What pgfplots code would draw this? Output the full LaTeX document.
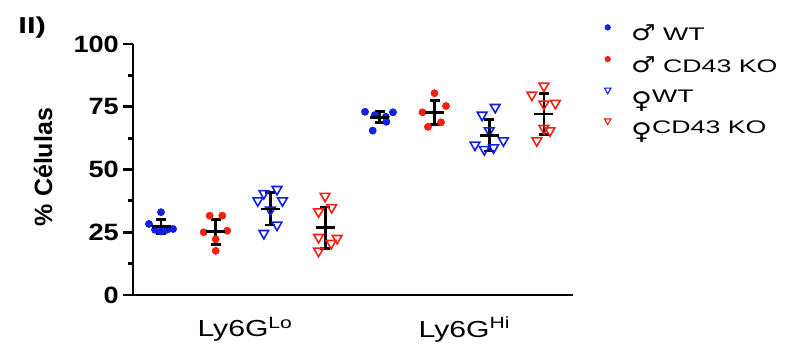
\documentclass[border=0pt]{standalone}
\usepackage{fontspec}
\setmainfont{Liberation Sans}
\newfontfamily\legfont[FakeStretch=1.47]{Liberation Sans}
\newfontfamily\symfont[FakeStretch=1.25]{DejaVu Sans}
\newfontfamily\tickfont[FakeStretch=1.15]{Liberation Sans}
\newfontfamily\xlabfont[FakeStretch=1.3]{Liberation Sans}
\newfontfamily\panelfont[FakeStretch=1.35]{Liberation Sans}
\newcommand{\mal}{{\symfont\fontsize{11}{9.1}\selectfont ♂}}
\newcommand{\fem}{\raisebox{-2.6pt}{\symfont\fontsize{11.5}{9.1}\selectfont ♀}}
\usepackage{pgfplots}
\pgfplotsset{compat=1.18}
\definecolor{gblue}{RGB}{16,32,224}
\definecolor{gred}{RGB}{245,32,20}

\pgfplotstableread{
x y
1.00 33.0
0.78 28.3
0.89 26.0
1.00 25.3
1.11 26.0
1.22 26.3
}\maleWTlo
\pgfplotstableread{
x y
1.89 31.6
2.12 31.6
1.78 25.0
2.21 25.6
2.00 22.2
2.00 17.6
}\maleKOlo
\pgfplotstableread{
x y
2.88 40.5
3.12 42.1
2.77 37.6
3.22 37.6
3.00 33.9
3.12 27.9
2.88 24.6
}\femWTlo
\pgfplotstableread{
x y
4.00 39.4
3.88 33.2
4.12 34.9
3.88 23.0
4.22 22.6
4.11 20.6
3.88 17.5
}\femKOlo
\pgfplotstableread{
x y
4.73 73.0
5.24 72.8
4.91 71.7
5.11 71.0
5.12 69.0
4.87 65.5
}\maleWThi
\pgfplotstableread{
x y
6.00 80.4
5.78 72.8
6.21 75.3
5.88 67.0
6.12 68.8
}\maleKOhi
\pgfplotstableread{
x y
7.11 74.8
6.87 71.7
7.00 65.5
7.26 61.5
6.74 59.8
6.91 58.0
7.08 58.7
}\femWThi
\pgfplotstableread{
x y
8.00 83.3
7.78 79.7
8.00 76.1
8.21 76.4
8.00 66.4
8.11 65.5
7.87 61.5
}\femKOhi

\begin{document}
\begin{tikzpicture}
\useasboundingbox (0,0) rectangle (393pt,-174.5pt);
\begin{axis}[
  at={(66.5pt,-147.5pt)}, anchor=south west,
  scale only axis, width=220pt, height=125.5pt,
  xmin=0.488, xmax=8.532, ymin=0, ymax=100,
  axis lines=left, axis line style={line width=1.4pt, -},
  ytick={0,25,50,75,100}, minor ytick={12.5,37.5,62.5,87.5},
  tick align=outside,
  major tick length=5pt, minor tick length=2.5pt,
  every tick/.style={black, line width=1.4pt},
  xtick={2.54,6.55},
  xticklabels={Ly6G\textsuperscript{Lo}, Ly6G\textsuperscript{Hi}},
  x tick style={draw=none},
  /pgf/number format/assume math mode=true,
  yticklabel style={font=\tickfont\bfseries\fontsize{11.8}{12}\selectfont, inner sep=0pt, xshift=-1.9pt},
  xticklabel style={font=\xlabfont\fontsize{11.6}{12}\selectfont, inner sep=0pt, anchor=north, yshift=-5.8pt},
  ylabel={\% Células},
  ylabel style={at={(rel axis cs:-0.2045,0.51)}, anchor=center, font=\bfseries\fontsize{12.5}{13}\selectfont},
  clip=false,
  legend image code/.code={\draw[#1] plot coordinates {(0pt,3.25pt)};},
  legend cell align=left,
  legend style={at={(rel axis cs:1.0714,1.077)}, anchor=north west, draw=none, fill=none,
    inner sep=0pt, outer sep=0pt, row sep=8.0pt, column sep=10pt,
    font=\legfont\fontsize{9.1}{9.1}\selectfont,
    nodes={inner sep=0pt, text height=6.5pt, text depth=0pt}},
]
\addlegendimage{only marks, mark=*, gblue, mark size=1.35pt}
\addlegendimage{only marks, mark=*, gred, mark size=1.35pt}
\addlegendimage{only marks, mark=triangle, gblue, mark size=1.9pt, mark options={rotate=180, line width=0.55pt}}
\addlegendimage{only marks, mark=triangle, gred, mark size=1.9pt, mark options={rotate=180, line width=0.55pt}}
\legend{\mal\ WT, \mal\ CD43 KO, \fem WT, \fem CD43 KO}

\addplot[forget plot, only marks, mark=*, gblue, mark size=1.75pt] table {\maleWTlo};
\addplot[forget plot, only marks, mark=*, gred, mark size=1.75pt] table {\maleKOlo};
\addplot[forget plot, only marks, mark=triangle, gblue, mark size=2.8pt, mark options={rotate=180, line width=0.8pt}] table {\femWTlo};
\addplot[forget plot, only marks, mark=triangle, gred, mark size=2.8pt, mark options={rotate=180, line width=0.8pt}] table {\femKOlo};
\addplot[forget plot, only marks, mark=*, gblue, mark size=1.75pt] table {\maleWThi};
\addplot[forget plot, only marks, mark=*, gred, mark size=1.75pt] table {\maleKOhi};
\addplot[forget plot, only marks, mark=triangle, gblue, mark size=2.8pt, mark options={rotate=180, line width=0.8pt}] table {\femWThi};
\addplot[forget plot, only marks, mark=triangle, gred, mark size=2.8pt, mark options={rotate=180, line width=0.8pt}] table {\femKOhi};

\addplot[forget plot, black, only marks, mark=-, mark size=4.75pt, mark options={line width=1.4pt, black},
  error bars/.cd, y dir=both, y explicit,
  error bar style={line width=1.4pt, black},
  error mark options={rotate=90, line width=1.4pt, black, mark size=2.5pt}]
coordinates {
(1,27.2) +- (0,2.8)
(2,25.2) +- (0,5.0)
(3,34.3) +- (0,6.4)
(4,26.8) +- (0,8.3)
(5,70.8) +- (0,2.2)
(6,72.8) +- (0,4.8)
(7,63.7) +- (0,6.3)
(8,72.1) +- (0,8.2)
};
\end{axis}
\node[anchor=base west, inner sep=0pt, font=\panelfont\bfseries\fontsize{11.5}{11.5}\selectfont] at (9pt,-16.9pt) {II)};
\end{tikzpicture}
\end{document}
